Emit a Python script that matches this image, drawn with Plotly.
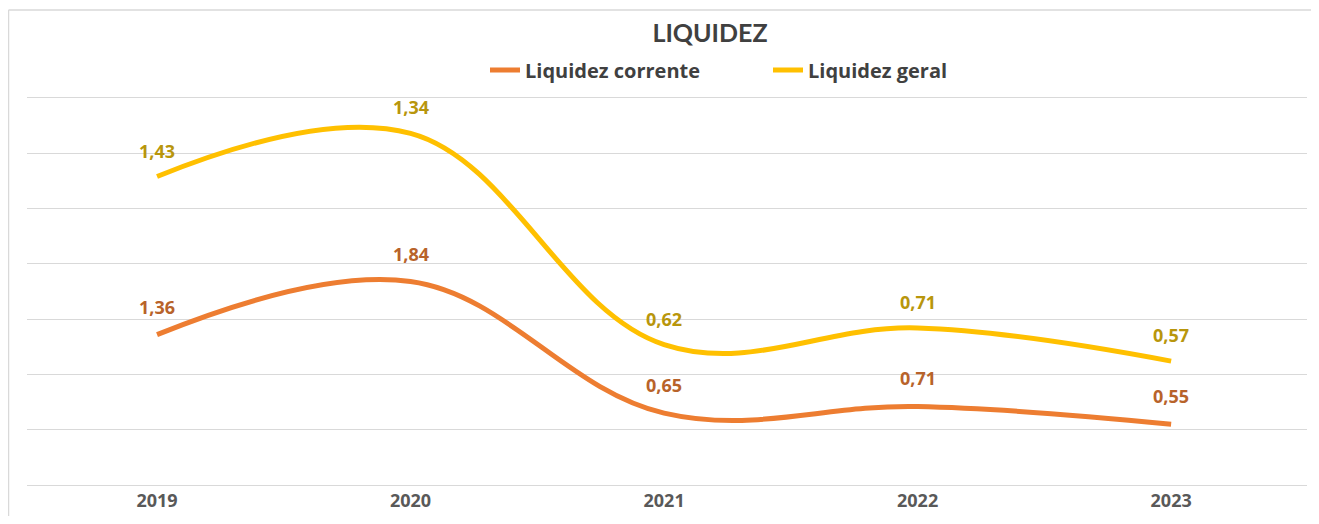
import numpy as np
import plotly.graph_objects as go

years = ["2019", "2020", "2021", "2022", "2023"]
liq_corrente = [1.36, 1.84, 0.65, 0.71, 0.55]
liq_geral = [1.43, 1.34, 0.62, 0.71, 0.57]

C_CORR = "#ED7D31"
C_GERAL = "#FFC000"
T_CORR = "#B8632A"
T_GERAL = "#B8960C"
FONT = "Open Sans"

W, H = 1303, 508
L, R, T, B = 19, 4, 88, 31
PW, PH = W - L - R, H - T - B

fig = go.Figure()
fig.add_trace(go.Scatter(x=years, y=liq_corrente, name="Liquidez corrente", mode="lines",
                         stackgroup="s", fill="none",
                         line=dict(color=C_CORR, width=5, shape="spline", smoothing=1.1)))
fig.add_trace(go.Scatter(x=years, y=liq_geral, name="Liquidez geral", mode="lines",
                         stackgroup="s", fill="none",
                         line=dict(color=C_GERAL, width=5, shape="spline", smoothing=1.1)))

cum1 = np.array(liq_corrente)
cum2 = cum1 + np.array(liq_geral)
def fmt(v):
    return f"{v:.2f}".replace(".", ",")
ann = []
for i, yr in enumerate(years):
    ann.append(dict(x=i, y=float(cum1[i]), text=fmt(liq_corrente[i]), showarrow=False, yshift=28,
                    font=dict(family=FONT, size=18, color=T_CORR, weight="bold")))
    ann.append(dict(x=i, y=float(cum2[i]), text=fmt(liq_geral[i]), showarrow=False, yshift=26,
                    font=dict(family=FONT, size=18, color=T_GERAL, weight="bold")))

fig.update_layout(
    width=W, height=H,
    margin=dict(l=L, r=R, t=T, b=B, autoexpand=False),
    paper_bgcolor="white", plot_bgcolor="white",
    font=dict(family=FONT, color="#595959"),
    title=dict(text="<b>LIQUIDEZ</b>", xref="container", x=702/W, xanchor="center",
               yref="container", y=1-25/H, yanchor="middle",
               font=dict(family="Lato", size=25, color="#404040")),
    legend=dict(orientation="h", x=(477-L)/PW, xanchor="left", y=(H-B-62)/PH,
                yanchor="middle", font=dict(family=FONT, size=20, color="#404040", weight="bold"),
                itemwidth=30, entrywidth=238, bgcolor="rgba(0,0,0,0)"),
    showlegend=True,
    annotations=ann,
    xaxis=dict(type="category", range=[-0.513, 4.536], showgrid=False, showline=False,
               zeroline=False, ticks="", automargin=False,
               tickfont=dict(family=FONT, size=18, color="#595959", weight="bold"),
               ticklabelstandoff=3),
    yaxis=dict(range=[0, 3.518], tickvals=[0, 0.5, 1, 1.5, 2, 2.5, 3, 3.5], showticklabels=False,
               showgrid=True, gridcolor="#D9D9D9", gridwidth=1, zeroline=True, automargin=False,
               zerolinecolor="#D9D9D9", zerolinewidth=1, showline=False, ticks=""),
    shapes=[
        dict(type="line", xref="paper", yref="paper", x0=(0.5-L)/PW, x1=1.2,
             y0=(H-B-2)/PH, y1=(H-B-2)/PH, line=dict(color="#D9D9D9", width=1.5)),
        dict(type="line", xref="paper", yref="paper", x0=(0.5-L)/PW, x1=(0.5-L)/PW,
             y0=(H-B-2)/PH, y1=-0.2, line=dict(color="#D9D9D9", width=1.5)),
    ],
)
fig.write_html("out.html")
